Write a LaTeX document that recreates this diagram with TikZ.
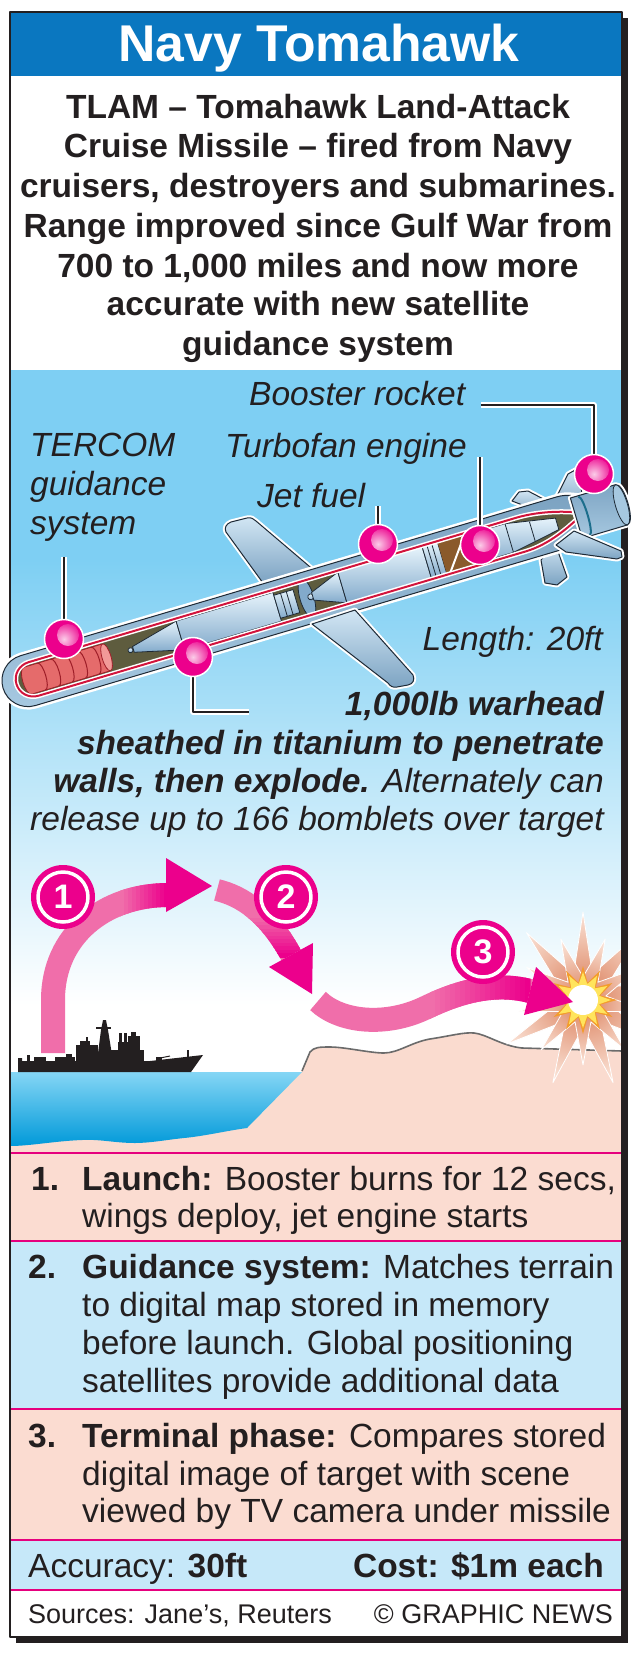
\documentclass[tikz,border=0pt]{standalone}
\usepackage{fontspec}
\setmainfont{Liberation Sans}
\usetikzlibrary{shapes.geometric}
\definecolor{hdrblue}{HTML}{0A77C0}
\definecolor{skyblue}{HTML}{7ECFF3}
\definecolor{mag}{HTML}{EC008C}
\definecolor{pinkarr}{HTML}{F06EAA}
\definecolor{rowpeach}{HTML}{FBDCD1}
\definecolor{rowblue}{HTML}{C6E8F9}
\definecolor{sepline}{HTML}{E6007E}
\definecolor{landc}{HTML}{FADBCF}
\definecolor{seatop}{HTML}{85D6F5}
\definecolor{seabot}{HTML}{0099D9}
\definecolor{shelllt}{HTML}{D2E6F4}
\definecolor{shellmd}{HTML}{A6C8E0}
\definecolor{shelldk}{HTML}{7CA3C2}
\definecolor{outl}{HTML}{1E2A36}
\definecolor{olivec}{HTML}{5E5C3E}
\definecolor{redline}{HTML}{D2143C}
\definecolor{tercom}{HTML}{E56B6B}
\definecolor{tercomlt}{HTML}{F29A98}
\definecolor{tercomdk}{HTML}{9E1E28}
\definecolor{brownfan}{HTML}{8A5A2B}
\definecolor{complt}{HTML}{E6F3FB}
\definecolor{compdk}{HTML}{82AACB}
\definecolor{ringteal}{HTML}{1C6E8C}
\definecolor{txt}{HTML}{231F20}
\definecolor{terr}{HTML}{6B6B6B}
\definecolor{explin}{HTML}{D97A55}
\definecolor{explout}{HTML}{FBE4D8}
\definecolor{explor}{HTML}{F39C2D}
\definecolor{explye}{HTML}{FFE45C}
\begin{document}
\begin{tikzpicture}[x=1pt,y=-1pt,line join=round,
  ttl/.style={font=\fontsize{51.7}{52}\selectfont\bfseries, text=white, inner sep=0pt, anchor=base},
  intro/.style={font=\fontsize{33.5}{39}\selectfont\bfseries, text=txt, inner sep=0pt, anchor=base},
  lbl/.style={font=\fontsize{33.5}{38}\selectfont\itshape, text=txt, inner sep=0pt},
  rowtxt/.style={font=\fontsize{33.5}{38}\selectfont, text=txt, inner sep=0pt, anchor=base west},
  srctxt/.style={font=\fontsize{27}{30}\selectfont, text=txt, inner sep=0pt},
  leader/.style={draw=txt, line width=1.8pt, preaction={draw=white, line width=5.5pt}},
  ballpin/.style={circle, minimum size=39pt, inner sep=0pt, fill=mag, draw=white, line width=1.5pt,
    path picture={\shade[inner color=white!80!mag, outer color=mag] ([xshift=4pt,yshift=4pt]path picture bounding box.center) circle [radius=11];}},
  badge/.style={circle, fill=mag, minimum size=64pt, inner sep=0pt, text=white, font=\fontsize{34}{34}\selectfont\bfseries},
  sepl/.style={draw=sepline, line width=2.5pt},
  wing/.style={draw=outl, line width=1pt, top color=shelllt, bottom color=shelldk, preaction={draw=white, line width=5pt}},
  comp/.style={draw=outl, line width=0.8pt, top color=complt, bottom color=compdk},
]
\useasboundingbox (0,0) rectangle (638,1654);
% frame
\fill[txt] (16,18) rectangle (628,1643);
\fill[white] (10,12) rectangle (622,1637);
\fill[hdrblue] (10,12) rectangle (622,76);
\node[ttl] (title) at (319,62) {Navy Tomahawk};
% intro
\node[intro] (i1) at (318,118) {TLAM – Tomahawk Land-Attack};
\node[intro] (i2) at (318,157) {Cruise Missile – fired from Navy};
\node[intro] (i3) at (318,197) {cruisers, destroyers and submarines.};
\node[intro] (i4) at (318,237) {Range improved since Gulf War from};
\node[intro] (i5) at (318,277) {700 to 1,000 miles and now more};
\node[intro] (i6) at (318,315) {accurate with new satellite};
\node[intro] (i7) at (318,355) {guidance system};
% scene
\begin{scope}
\clip (10,370) rectangle (622,1152);
\fill[skyblue] (10,370) rectangle (622,561);
\shade[top color=skyblue, bottom color=white] (10,560) rectangle (622,1005);
\fill[white] (10,1004) rectangle (622,1152);
% land
\fill[landc] (302,1071) -- (310,1052) .. controls (314,1047) and (320,1047) .. (330,1047) .. controls (345,1047) and (370,1053) .. (384,1053) .. controls (398,1053) and (412,1042) .. (430,1039) .. controls (450,1036) and (464,1032) .. (474,1033) .. controls (486,1034) and (502,1046) .. (522,1048) -- (622,1051) -- (622,1152) -- (10,1152) -- (10,1115) -- (260,1115) -- cycle;
\draw[terr, line width=1.6pt] (302,1071) -- (310,1052) .. controls (314,1047) and (320,1047) .. (330,1047) .. controls (345,1047) and (370,1053) .. (384,1053) .. controls (398,1053) and (412,1042) .. (430,1039) .. controls (450,1036) and (464,1032) .. (474,1033) .. controls (486,1034) and (502,1046) .. (522,1048) -- (622,1051);
% sea
\shade[top color=seatop, bottom color=seabot] (10,1072) -- (302,1072) -- (247,1128) .. controls (225,1131) and (205,1136) .. (184,1138) .. controls (165,1140) and (150,1143) .. (135,1143) .. controls (115,1143) and (100,1139) .. (82,1140) .. controls (55,1141) and (30,1146) .. (10,1146) -- cycle;
% ship
\fill[txt] (18,1058) -- (22,1058) -- (22,1061) -- (150,1061) -- (203,1055) -- (191,1072) -- (18,1072) -- cycle;
\fill[txt] (27,1055) rectangle (30,1061);
\fill[txt] (34,1057) rectangle (46,1061);
\fill[txt] (55,1057) rectangle (75,1061);
\fill[txt] (66,1054) rectangle (72,1057);
\fill[txt] (76,1045) rectangle (98,1061);
\fill[txt] (80,1041) rectangle (90,1045);
\fill[txt] (86,1037) rectangle (88,1041);
\fill[txt] (97,1061) -- (101,1030) -- (103,1020) -- (106,1020) -- (108,1030) -- (113,1061) -- cycle;
\fill[txt] (96,1027) rectangle (111,1029);
\fill[txt] (108,1050) rectangle (144,1061);
\fill[txt] (118,1042) rectangle (132,1050);
\fill[txt] (119,1033) rectangle (122,1042);
\fill[txt] (124,1033) rectangle (127,1042);
\fill[txt] (128,1036) rectangle (140,1050);
\fill[txt] (131,1032) rectangle (136,1036);
\fill[txt] (156,1057) rectangle (162,1061);
\draw[txt, line width=1pt] (160,1058) -- (170,1056);
\draw[txt, line width=1.2pt] (188,1058) -- (188,1050);
% explosion
\node[star, star points=9, star point ratio=3.2, minimum size=176pt, inner sep=0pt, inner color=explin, outer color=explout, draw=white, line width=0.8pt] (ex1) at (583,1000) {};
\node[star, star points=9, star point ratio=2.8, minimum size=130pt, inner sep=0pt, shape border rotate=20, inner color=explin, outer color=explout, draw=white, line width=0.8pt] (ex2) at (583,1000) {};
\node[star, star points=12, star point ratio=1.9, minimum size=68pt, inner sep=0pt, fill=explor] (ex3) at (583,1000) {};
\node[star, star points=12, star point ratio=1.7, minimum size=56pt, inner sep=0pt, fill=explye] (ex4) at (583,1000) {};
\node[circle, fill=white, minimum size=30pt, inner sep=0pt] (ex5) at (583,1000) {};
% arrow 1
\draw[pinkarr, line width=24pt] (53,1053) -- (53,1000) .. controls (53,935) and (105,895) .. (168,895);
\foreach \k in {0,...,11} {
  \pgfmathsetmacro{\pc}{100*\k/11}
  \begin{scope}
    \clip ({120+4*\k},850) rectangle ({124.6+4*\k},930);
    \draw[line width=24pt, color=mag!\pc!pinkarr] (53,1053) -- (53,1000) .. controls (53,935) and (105,895) .. (168,895);
  \end{scope}
}
\fill[mag] (166,858) -- (212,886) -- (166,912) -- cycle;
% arrow 2
\draw[pinkarr, line width=22pt] (217,890) .. controls (242,896) and (268,913) .. (291,955);
\foreach \k in {0,...,11} {
  \pgfmathsetmacro{\pc}{100*\k/11}
  \begin{scope}
    \clip (225,{915+3.5*\k}) rectangle (335,{919+3.5*\k});
    \draw[line width=22pt, color=mag!\pc!pinkarr] (217,890) .. controls (242,896) and (268,913) .. (291,955);
  \end{scope}
}
\fill[mag] (269,967) -- (313,943) -- (312,994) -- cycle;
% arrow 3
\draw[pinkarr, line width=24pt] (318,1001) .. controls (340,1022) and (385,1027) .. (425,1008) .. controls (460,991) and (495,982) .. (530,991);
\foreach \k in {0,...,19} {
  \pgfmathsetmacro{\pc}{100*\k/19}
  \begin{scope}
    \clip ({430+5*\k},950) rectangle ({435.6+5*\k},1050);
    \draw[line width=24pt, color=mag!\pc!pinkarr] (318,1001) .. controls (340,1022) and (385,1027) .. (425,1008) .. controls (460,991) and (495,982) .. (530,991);
  \end{scope}
}
\fill[mag] (536,967) -- (573,1002) -- (524,1015) -- cycle;
% badges
\node[badge] (b1) at (63,897) {1};
\node[badge] (b2) at (286,897) {2};
\node[badge] (b3) at (483,952) {3};
\foreach \b in {b1,b2,b3} \draw[white, line width=3.5pt] (\b.center) circle [radius=25];
\end{scope}
% rows
\fill[rowpeach] (10,1153) rectangle (622,1241);
\fill[rowblue] (10,1241) rectangle (622,1409);
\fill[rowpeach] (10,1409) rectangle (622,1540);
\fill[rowblue] (10,1540) rectangle (622,1590);
\foreach \yy in {1153,1241,1409,1540,1590} \draw[sepl] (10,\yy) -- (622,\yy);
\draw[txt, line width=1.5pt] (10,12) rectangle (622,1637);
% row texts
\node[rowtxt] (n1) at (31,1190) {\bfseries 1.};
\node[rowtxt] (r1a) at (82,1190) {{\bfseries Launch:} Booster burns for 12 secs,};
\node[rowtxt] (r1b) at (82,1227) {wings deploy, jet engine starts};
\node[rowtxt] (n2) at (28,1278) {\bfseries 2.};
\node[rowtxt] (r2a) at (82,1278) {{\bfseries Guidance system:} Matches terrain};
\node[rowtxt] (r2b) at (82,1316) {to digital map stored in memory};
\node[rowtxt] (r2c) at (82,1354) {before launch. Global positioning};
\node[rowtxt] (r2d) at (82,1392) {satellites provide additional data};
\node[rowtxt] (n3) at (28,1447) {\bfseries 3.};
\node[rowtxt] (r3a) at (82,1447) {{\bfseries Terminal phase:} Compares stored};
\node[rowtxt] (r3b) at (82,1485) {digital image of target with scene};
\node[rowtxt] (r3c) at (82,1522) {viewed by TV camera under missile};
\node[rowtxt] (acc) at (28,1577) {Accuracy: {\bfseries 30ft}};
\node[rowtxt, anchor=base east] (cost) at (604,1577) {\bfseries Cost: \$1m each};
\node[srctxt, anchor=base west] (src) at (28,1623) {Sources: Jane’s, Reuters};
\node[srctxt, anchor=base east] (gn) at (613,1623) {© GRAPHIC NEWS};
% missile: parts behind body
\path[wing] (263,583) -- (226,532) .. controls (224,528) and (226,524) .. (231,522) -- (247,518) .. controls (251,517) and (254,519) .. (256,521) -- (316,572) -- cycle;
\path[wing] (512,501) -- (519,492) -- (528,491) -- (553,504) -- (546,514) -- cycle;
\path[wing] (549,512) -- (568,474) -- (577,469) -- (580,478) -- (584,512) -- cycle;
\path[wing] (541,560) -- (555,543) -- (567,577) -- (557,585) -- (545,583) -- cycle;
\begin{scope}[shift={(3,688)}, rotate=16.5]
  \path[draw=outl, line width=1pt, top color=shelldk, middle color=shelllt, bottom color=shellmd, preaction={draw=white, line width=6pt}]
    (26,-26) -- (585,-26) .. controls (598,-26) and (604,-20) .. (612,-19) -- (612,19) .. controls (604,21) and (598,26) .. (585,26) -- (26,26) .. controls (11.6,26) and (0,14.4) .. (0,0) .. controls (0,-14.4) and (11.6,-26) .. (26,-26) -- cycle;
  \begin{scope}
    \clip (32,-17.5) -- (540,-17.5) .. controls (565,-17.5) and (590,-10) .. (606,-3) .. controls (590,6) and (565,17.5) .. (540,17.5) -- (32,17.5) .. controls (22,17.5) and (14,10) .. (14,0) .. controls (14,-10) and (22,-17.5) .. (32,-17.5) -- cycle;
    \fill[olivec] (0,-30) rectangle (620,30);
    % TERCOM
    \path[draw=tercomdk, line width=0.8pt, fill=tercom] (26,-14) -- (108,-14) -- (108,14) -- (26,14) .. controls (19,14) and (19,-14) .. (26,-14) -- cycle;
    \foreach \l in {40,54,68,82,96} \draw[tercomdk, line width=1pt] (\l,-14) .. controls (\l+6,-14) and (\l+6,14) .. (\l,14);
    \draw[tercomdk, line width=0.8pt, fill=tercomlt] (108,0) ellipse [x radius=4.5, y radius=14];
    % warhead
    \draw[comp] (133,0) circle [radius=2.5];
    \path[comp] (136,-3) -- (185,-15) -- (185,15) -- (136,3) -- cycle;
    \path[comp] (185,-15) rectangle (286,15);
    \path[comp] (286,-12) rectangle (306,12);
    \draw[outl, line width=0.8pt] (293,-12) -- (293,12) (299,-12) -- (299,12);
    \path[draw=outl, line width=0.8pt, fill=compdk] (317,0) ellipse [x radius=7, y radius=20];
    % fuel
    \draw[comp] (321,0) circle [radius=3];
    \path[comp] (323,-4) -- (354,-16) -- (354,16) -- (323,4) -- cycle;
    \path[comp] (354,-16) rectangle (442,16);
    \path[comp] (442,-16) rectangle (458,16);
    \draw[outl, line width=0.8pt] (447,-16) -- (447,16) (452,-16) -- (452,16);
    % turbofan
    \fill[brownfan] (458,-18) rectangle (490,18);
    \draw[white, line width=2pt] (462,16) -- (486,-16);
    % engine
    \path[comp] (490,-15) -- (528,-15) -- (578,-6) -- (578,6) -- (528,15) -- (490,15) -- cycle;
    \draw[outl, line width=0.8pt] (505,-15) -- (505,15) (528,-15) -- (528,15) (552,-10) -- (552,10);
  \end{scope}
  \draw[redline, line width=2pt, preaction={draw=white, line width=5pt}] (32,-17.5) -- (540,-17.5) .. controls (565,-17.5) and (590,-10) .. (606,-3) .. controls (590,6) and (565,17.5) .. (540,17.5) -- (32,17.5) .. controls (22,17.5) and (14,10) .. (14,0) .. controls (14,-10) and (22,-17.5) .. (32,-17.5) -- cycle;
  % booster
  \path[draw=outl, line width=1pt, top color=shelldk, middle color=shelllt, bottom color=shellmd, preaction={draw=white, line width=5pt}] (598,-21) -- (645,-21) .. controls (654,-21) and (654,21) .. (645,21) -- (598,21) -- cycle;
  \draw[outl, line width=0.8pt, fill=shellmd] (645,0) ellipse [x radius=6, y radius=21];
  \draw[ringteal, line width=2pt] (606,-20) .. controls (611,-20) and (611,20) .. (606,20);
\end{scope}
% missile: parts in front
\path[wing] (556,545) -- (574,531) -- (621,551) -- (622,557) -- (617,559) -- (566,552) -- cycle;
\path[wing] (312,624) -- (355,610) -- (413,675) .. controls (415,680) and (413,684) .. (408,685) -- (397,687) .. controls (393,688) and (390,686) .. (388,683) -- cycle;
% labels
\node[lbl, anchor=base west] (lbs) at (249,405) {Booster rocket};
\node[lbl, anchor=base west] (ltc1) at (30,456) {TERCOM};
\node[lbl, anchor=base west] (ltc2) at (30,495) {guidance};
\node[lbl, anchor=base west] (ltc3) at (30,534) {system};
\node[lbl, anchor=base west] (ltf) at (225,457) {Turbofan engine};
\node[lbl, anchor=base west] (ljf) at (257,507) {Jet fuel};
\node[lbl, anchor=base east] (llen) at (603,650) {Length: 20ft};
\node[lbl, anchor=base east] (w1) at (604,715) {\bfseries 1,000lb warhead};
\node[lbl, anchor=base east] (w2) at (604,754) {\bfseries sheathed in titanium to penetrate};
\node[lbl, anchor=base east] (w3) at (604,792) {{\bfseries walls, then explode.} Alternately can};
\node[lbl, anchor=base east] (w4) at (604,830) {release up to 166 bomblets over target};
% leaders then pins
\coordinate (cbs) at (481,405);
\coordinate (ctf) at (480,457);
\coordinate (cjf) at (378,506);
\coordinate (ctc) at (64,557);
\coordinate (cwh) at (249,712);
\coordinate (abs) at (594,474);
\coordinate (atf) at (480,545);
\coordinate (ajf) at (378,544);
\coordinate (atc) at (64,639);
\coordinate (awh) at (193,657);
\draw[leader] (cbs) -| (abs);
\draw[leader] (ctf) -- (atf);
\draw[leader] (cjf) -- (ajf);
\draw[leader] (ctc) -- (atc);
\draw[leader] (awh) |- (cwh);
\node[ballpin] (pbs) at (abs) {};
\node[ballpin] (ptf) at (atf) {};
\node[ballpin] (pjf) at (ajf) {};
\node[ballpin] (ptc) at (atc) {};
\node[ballpin] (pwh) at (awh) {};
\end{tikzpicture}
\end{document}
